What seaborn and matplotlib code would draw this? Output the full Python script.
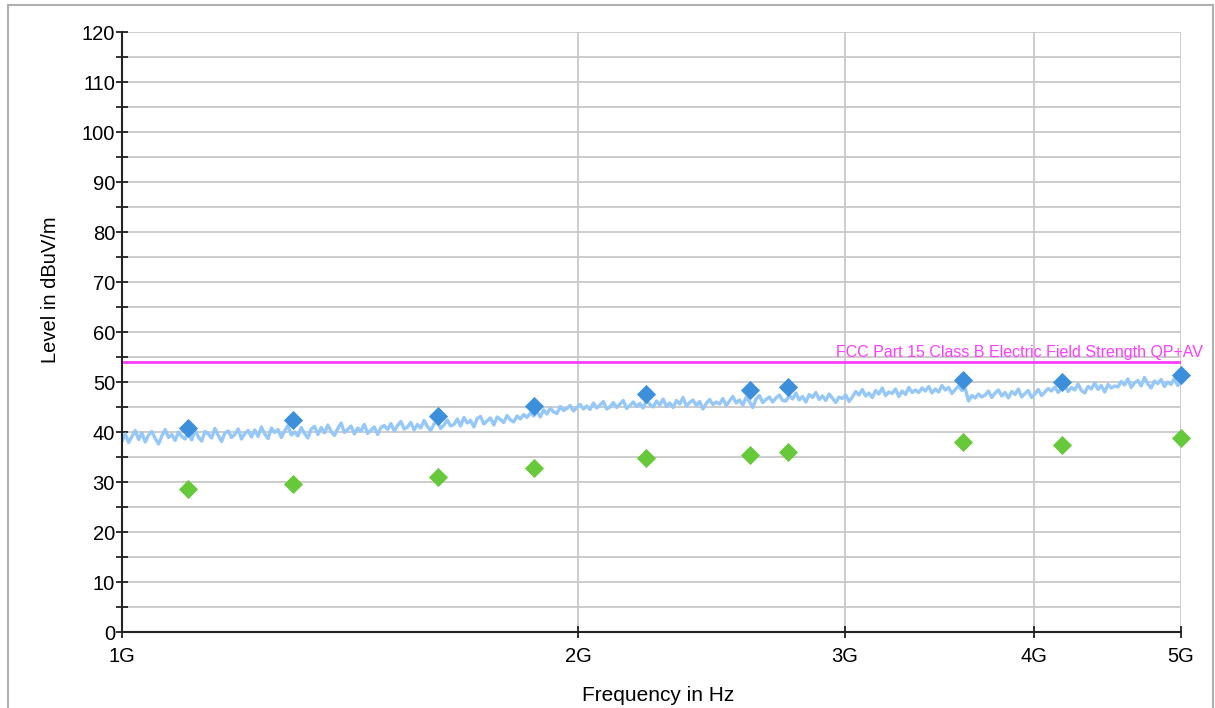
import numpy as np
import pandas as pd
import matplotlib
matplotlib.use("Agg")
import matplotlib.pyplot as plt
from matplotlib.patches import Rectangle
from matplotlib.ticker import FixedLocator, NullLocator, FixedFormatter
import seaborn as sns

# ---- data ----
marker_freq_ghz = [1.106, 1.297, 1.617, 1.870, 2.218, 2.597, 2.752, 3.591, 4.173, 5.0]
peak_level = [40.8, 42.4, 43.2, 45.2, 47.6, 48.4, 49.0, 50.4, 50.0, 51.4]
avg_level = [28.6, 29.6, 31.0, 32.8, 34.8, 35.4, 36.0, 38.0, 37.4, 38.8]

limit_freq_ghz = [1.0, 5.0]
limit_level = [54.0, 54.0]
limit_label = "FCC Part 15 Class B Electric Field Strength QP+AV"

trace_level = [
    38.2, 39.6, 37.9, 39.1, 40.3, 38.5, 39.8, 38.0, 39.4, 40.1, 38.7, 37.6, 39.2, 40.5, 38.9, 39.5, 38.3, 40.0, 39.1, 38.6,
    39.9, 38.4, 40.4, 39.0, 38.2, 40.1, 39.6, 38.8, 40.7, 39.3, 38.1, 39.8, 40.2, 38.9, 39.5, 40.6, 38.6, 39.7, 40.3, 39.0,
    40.4, 39.1, 41.0, 39.6, 38.7, 40.8, 39.9, 40.5, 38.9, 40.2, 41.3, 39.4, 40.0, 39.2, 40.9, 39.7, 38.8, 40.6, 41.1, 39.5,
    40.9, 39.8, 41.4, 40.1, 39.3, 40.7, 41.8, 39.9, 40.5, 41.2, 39.6, 40.8, 40.2, 41.5, 39.7, 40.4, 41.0, 39.5, 40.9, 41.3,
    40.5, 41.7, 40.2, 41.3, 42.1, 40.6, 41.0, 41.9, 40.4, 41.5, 40.8, 42.3, 41.1, 40.3, 41.6, 42.0, 40.7, 41.4, 42.4, 41.2,
    41.5, 42.6, 41.2, 42.9, 41.8, 42.3, 41.0, 42.7, 43.1, 41.6, 42.2, 42.8, 41.4, 43.0, 42.5, 41.9, 43.3, 42.4, 42.0, 43.2,
    42.6, 43.5, 42.9, 43.8, 43.2, 44.1, 43.0, 44.4, 43.6, 44.8, 44.0, 43.7, 45.1, 44.3, 44.7, 45.3, 44.2, 44.9, 45.5, 44.6,
    45.2, 44.5, 45.8, 44.8, 45.4, 46.1, 44.6, 45.0, 45.9, 44.9, 45.6, 46.3, 44.7, 45.3, 46.0, 45.1, 45.7, 44.8, 46.4, 45.5,
    45.0, 46.2, 45.4, 46.6, 45.1, 45.8, 44.9, 46.3, 45.6, 46.9, 45.2, 45.9, 46.4, 45.3, 46.1, 44.6, 45.7, 46.5, 45.5, 46.0,
    45.6, 46.7, 45.3, 46.2, 47.1, 45.8, 46.4, 45.4, 46.9, 46.1, 44.9, 46.6, 47.3, 45.9, 46.5, 47.0, 46.0, 46.8, 47.4, 46.3,
    46.2, 47.3, 46.6, 47.8, 46.4, 47.1, 46.0, 47.5, 46.9, 47.9, 46.5, 47.2, 46.3, 47.6, 46.8, 45.9, 47.0, 46.7, 47.4, 46.1,
    47.0, 48.1, 47.4, 48.5, 47.2, 47.8, 46.9, 48.3, 47.6, 48.8, 47.3, 48.0, 47.7, 48.6, 47.1, 48.2, 47.5, 48.9, 47.9, 48.4,
    47.9, 48.8, 48.2, 49.1, 47.8, 48.6, 48.0, 49.3, 48.4, 48.9, 47.7, 48.5, 49.2, 48.3, 48.7, 46.2, 47.3, 46.8, 47.6, 47.0,
    47.4, 48.2, 46.9, 47.8, 48.4, 47.2, 47.9, 46.8, 48.1, 47.5, 48.6, 47.0, 47.7, 48.3, 46.9, 47.6, 48.5, 47.3, 48.0, 48.7,
    48.2, 49.0, 47.9, 48.7, 49.4, 48.1, 48.9, 48.4, 49.6, 48.3, 47.8, 49.1, 48.6, 49.8, 48.5, 49.3, 48.0, 49.5, 48.8, 49.2,
    49.0, 50.1, 49.4, 50.6, 48.9, 49.8, 50.3, 49.2, 50.9, 49.6, 48.8, 50.2, 49.7, 50.5, 49.1, 50.0, 49.5, 50.7, 49.3, 49.9,
]

x_tick_values = [1e9, 2e9, 3e9, 4e9, 5e9]
x_tick_labels = ["1G", "2G", "3G", "4G", "5G"]

# ---- style ----
sns.set_style("white")
plt.rcParams["font.family"] = ["Liberation Sans", "DejaVu Sans"]
plt.rcParams["text.color"] = "black"
plt.rcParams["axes.labelcolor"] = "black"
plt.rcParams["xtick.color"] = "black"
plt.rcParams["ytick.color"] = "black"

fig = plt.figure(figsize=(12.15, 7.08), dpi=100)
ax = fig.add_axes([122 / 1215, 76 / 708, 1059 / 1215, 600 / 708])

trace_freq = np.geomspace(1e9, 5e9, len(trace_level))
df_trace = pd.DataFrame({"f": trace_freq, "v": trace_level})
df_pk = pd.DataFrame({"f": np.array(marker_freq_ghz) * 1e9, "v": peak_level})
df_av = pd.DataFrame({"f": np.array(marker_freq_ghz) * 1e9, "v": avg_level})
df_lim = pd.DataFrame({"f": np.array(limit_freq_ghz) * 1e9, "v": limit_level})

ax.set_xscale("log")

sns.lineplot(data=df_trace, x="f", y="v", ax=ax, color="#95c8f8", lw=2.4, zorder=3)
sns.lineplot(data=df_lim, x="f", y="v", ax=ax, color="#ff3cff", lw=2.0, zorder=4)
sns.scatterplot(data=df_pk, x="f", y="v", ax=ax, marker="D", s=95, color="#3b8fdb",
                linewidth=0, zorder=5, clip_on=False)
sns.scatterplot(data=df_av, x="f", y="v", ax=ax, marker="D", s=95, color="#66c93a",
                linewidth=0, zorder=5, clip_on=False)

ax.text(1.0208, 54.3, limit_label, transform=ax.get_yaxis_transform(),
        ha="right", va="bottom", color="#ff3cff", fontsize=11.5, clip_on=False, zorder=6)

ax.set_xlim(1e9, 5e9)
ax.set_ylim(0, 120)

ax.xaxis.set_major_locator(FixedLocator(x_tick_values))
ax.xaxis.set_major_formatter(FixedFormatter(x_tick_labels))
ax.xaxis.set_minor_locator(NullLocator())
ax.yaxis.set_major_locator(FixedLocator(list(range(0, 121, 10))))
ax.yaxis.set_minor_locator(FixedLocator(list(range(5, 120, 10))))

ax.grid(True, which="major", axis="both", color="#c8c8c8", lw=1.3)
ax.grid(True, which="minor", axis="y", color="#c8c8c8", lw=1.3)
ax.set_axisbelow(True)

for s in ["top", "right"]:
    ax.spines[s].set_visible(False)
for s in ["left", "bottom"]:
    ax.spines[s].set_color("#222222")
    ax.spines[s].set_linewidth(1.5)
    ax.spines[s].set_zorder(7)

ax.tick_params(axis="y", which="both", left=True, direction="inout", length=8, width=1.3,
               color="#222222", labelcolor="black", labelsize=14.5, pad=1)
ax.tick_params(axis="x", which="both", bottom=True, direction="inout", length=8, width=1.3,
               color="#222222", labelcolor="black", labelsize=14.5, pad=7)

ax.set_xlabel("Frequency in Hz", fontsize=15, color="black")
ax.set_ylabel("Level in dBuV/m", fontsize=14.5, color="black")
ax.xaxis.set_label_coords(0.506, -0.09)
ax.yaxis.set_label_coords(-0.0585, 0.57)

fig.patches.append(Rectangle((8 / 1215, -0.05), (1213 - 8) / 1215, 1.05 - 5 / 708,
                             transform=fig.transFigure, fill=False,
                             edgecolor="#b0b0b0", lw=1.5))

fig.savefig("out.png", dpi=100)
